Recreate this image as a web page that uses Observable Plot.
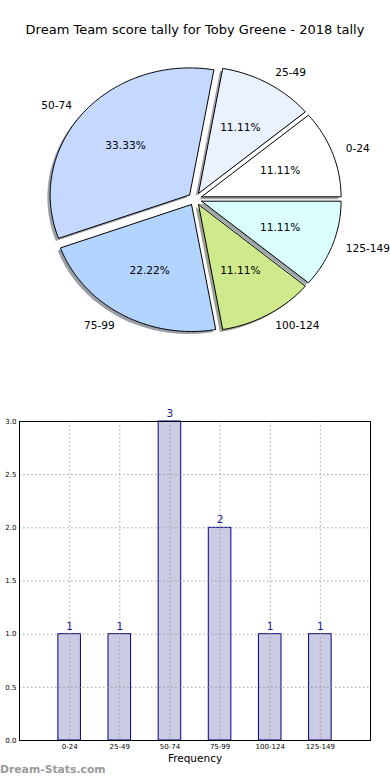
<!DOCTYPE html>
<html><head><meta charset="utf-8">
<script src="https://cdn.jsdelivr.net/npm/d3@7"></script>
<script src="https://cdn.jsdelivr.net/npm/@observablehq/plot@0.6"></script>
<style>
body{margin:0;background:#fff;font-family:"DejaVu Sans",sans-serif;}
#wrap{position:relative;width:390px;height:780px;overflow:hidden;background:#fff;}
#title{position:absolute;left:0;top:0;width:390px;height:50px;text-align:center;font-size:13px;line-height:16px;padding-top:22px;box-sizing:border-box;color:#000;white-space:nowrap;}
#pie{position:absolute;left:0;top:50px;}
#bar{position:absolute;left:0;top:390px;}
#cap{position:absolute;left:0;top:763px;font-size:10.8px;font-weight:bold;color:#9a9a9a;line-height:14px;}
svg{font-family:"DejaVu Sans",sans-serif;}
</style></head>
<body><div id="wrap">
<div id="title">Dream Team score tally for Toby Greene - 2018 tally</div>
<div id="pie"></div>
<div id="bar"></div>
<div id="cap">Dream-Stats.com</div>
</div>
<script>
// ---- data ----
const categories = ["0-24", "25-49", "50-74", "75-99", "100-124", "125-149"];
const counts = [1, 1, 3, 2, 1, 1];
const sliceColors = ["#ffffff", "#eaf1ff", "#c5d8ff", "#b3d4ff", "#cfea8c", "#dbffff"];
const yTicks = [0, 0.5, 1, 1.5, 2, 2.5, 3];

// ---- pie geometry (unit circle, matplotlib style) ----
const total = d3.sum(counts);
const explode = 0.05, shadowOff = -0.02;
let acc = 0;
const slices = counts.map((c, i) => {
  const a0 = acc / total * 2 * Math.PI;
  acc += c;
  const a1 = acc / total * 2 * Math.PI;
  const mid = (a0 + a1) / 2;
  const ox = explode * Math.cos(mid), oy = explode * Math.sin(mid);
  const n = Math.max(8, Math.ceil((a1 - a0) / (Math.PI / 180)));
  const pts = [{x: ox, y: oy}];
  for (let k = 0; k <= n; k++) {
    const a = a0 + (a1 - a0) * k / n;
    pts.push({x: ox + Math.cos(a), y: oy + Math.sin(a)});
  }
  pts.push({x: ox, y: oy});
  const sh = pts.map(p => ({x: p.x + shadowOff, y: p.y + shadowOff}));
  const col = d3.rgb(sliceColors[i]);
  const shadowCol = d3.rgb(col.r * 0.3, col.g * 0.3, col.b * 0.3).formatHex();
  return {
    cat: categories[i], count: c, pts, sh, shadowCol, color: sliceColors[i],
    lx: ox + 1.1 * Math.cos(mid), ly: oy + 1.1 * Math.sin(mid),
    px: ox + 0.6 * Math.cos(mid), py: oy + 0.6 * Math.sin(mid),
    pct: (c / total * 100).toFixed(2) + "%",
    right: Math.cos(mid) >= 0
  };
});

const pieMarks = [];
slices.forEach(s => {
  pieMarks.push(Plot.line(s.sh, {x: "x", y: "y", fill: s.shadowCol, fillOpacity: 0.5, stroke: "none"}));
  pieMarks.push(Plot.line(s.pts, {x: "x", y: "y", fill: s.color, stroke: "#000", strokeWidth: 1, strokeLinejoin: "miter"}));
});
pieMarks.push(Plot.text(slices.filter(s => s.right), {x: "lx", y: "ly", text: "cat", textAnchor: "start", fontSize: 10.6, fill: "#000"}));
pieMarks.push(Plot.text(slices.filter(s => !s.right), {x: "lx", y: "ly", text: "cat", textAnchor: "end", fontSize: 10.6, fill: "#000"}));
pieMarks.push(Plot.text(slices, {x: "px", y: "py", text: "pct", fontSize: 10.6, fill: "#000"}));

const cx = 194.5, cy = 148.5, rx = 139.5, ry = 127;
const pie = Plot.plot({
  width: 390, height: 340, margin: 0,
  x: {type: "linear", domain: [-1, 1], range: [cx - rx, cx + rx], axis: null},
  y: {type: "linear", domain: [-1, 1], range: [cy + ry, cy - ry], axis: null},
  marks: pieMarks
});
document.getElementById("pie").appendChild(pie);

// ---- bar chart ----
const barData = counts.map((v, i) => ({i, v, cat: categories[i]}));
const idx = d3.range(categories.length);
const bar = Plot.plot({
  width: 390, height: 375,
  marginTop: 31, marginBottom: 25, marginLeft: 19, marginRight: 20,
  x: {type: "linear", domain: [-1, 6], axis: null},
  y: {type: "linear", domain: [0, 3], axis: null},
  marks: [
    Plot.rectY(barData, {x1: d => d.i - 0.225, x2: d => d.i + 0.225, y1: 0, y2: "v", fill: "#cbcce3", stroke: "#00008b", strokeWidth: 1}),
    Plot.gridX(idx, {stroke: "#9a9a9a", strokeOpacity: 0.9, strokeDasharray: "1.5,2.5"}),
    Plot.gridY(yTicks, {stroke: "#9a9a9a", strokeOpacity: 0.9, strokeDasharray: "1.5,2.5"}),
    Plot.frame({stroke: "#000", strokeWidth: 1}),
    Plot.axisX(idx, {tickFormat: i => categories[i], tickSize: 0, tickPadding: 4, fontSize: 7, label: null}),
    Plot.axisY(yTicks, {tickFormat: d3.format(".1f"), tickSize: 0, tickPadding: 3, fontSize: 7, label: null}),
    Plot.text(barData, {x: "i", y: "v", text: d => String(d.v), dy: -8, fill: "#1a1a9c", fontSize: 10.5}),
    Plot.text(["Frequency"], {frameAnchor: "bottom", text: d => d, dy: 21, fontSize: 10.5, fill: "#000"})
  ]
});
document.getElementById("bar").appendChild(bar);
</script>
</body></html>
